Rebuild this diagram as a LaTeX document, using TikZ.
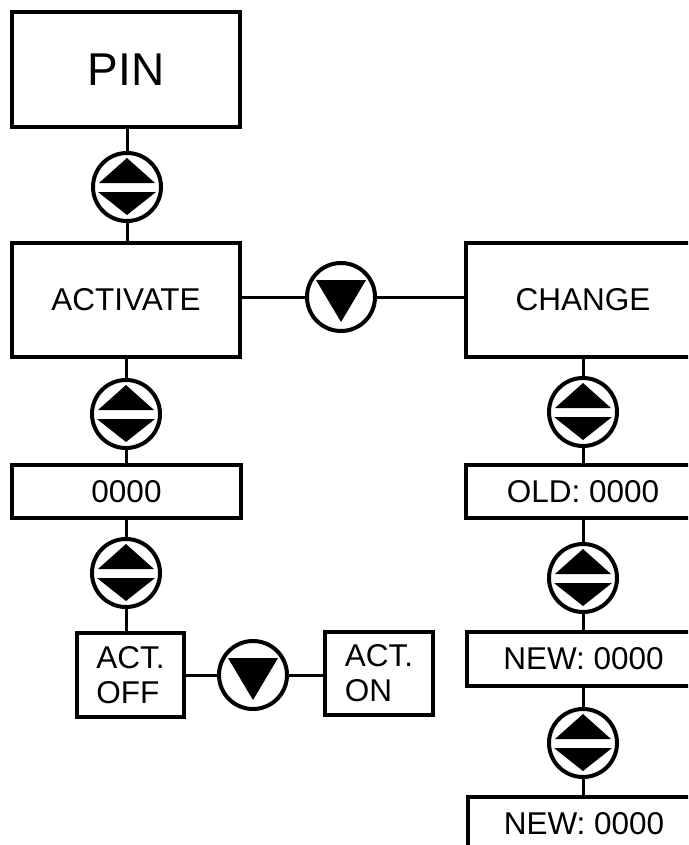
\documentclass[tikz,border=0pt]{standalone}
\usepackage{fontspec}
\setmainfont{Liberation Sans}
\newcommand\udicon[2]{\node[icon] (#1) at (#2) {};
 \fill[shift={(#1.center)}] (0,-29) -- (28,-4) -- (-28,-4) -- cycle (-29,5) -- (29,5) -- (0,28) -- cycle;}
\newcommand\dnicon[2]{\node[icon] (#1) at (#2) {};
 \fill[shift={(#1.center)}] (-25,-17) -- (25,-17) -- (0,25) -- cycle;}
\begin{document}
\begin{tikzpicture}[x=1pt,y=-1pt,
 box/.style={draw,line width=3.2pt,inner sep=0pt,font=\fontsize{31.5}{35}\selectfont},
 icon/.style={circle,draw,line width=4pt,minimum size=68pt,inner sep=0pt},
 link/.style={line width=3pt}]
\useasboundingbox (0,0) rectangle (688,845);
\clip (0,0) rectangle (688,845);
% boxes
\node[box,minimum width=228pt,minimum height=115pt,font=\fontsize{46}{50}\selectfont] (pin) at (126,69.5) {PIN};
\node[box,minimum width=228pt,minimum height=114pt] (act) at (126,300) {ACTIVATE};
\node[box,minimum width=229pt,minimum height=53pt] (zero) at (126.5,491.5) {0000};
\node[box,minimum width=107pt,minimum height=84pt,align=left] (off) at (130.5,675) {ACT.\\OFF};
\node[box,minimum width=108pt,minimum height=83pt,align=left] (on) at (379,673.5) {ACT.\\ON};
\node[box,minimum width=234pt,minimum height=114pt] (change) at (583,300) {CHANGE};
\node[box,minimum width=234pt,minimum height=53pt] (old) at (583,491.5) {OLD: 0000};
\node[box,minimum width=233pt,minimum height=54pt] (newa) at (583.5,659) {NEW: 0000};
\node[box,minimum width=232pt,minimum height=54pt] (newb) at (584,824) {NEW: 0000};
% icons
\udicon{ua}{127,187}
\udicon{ub}{126,414}
\udicon{uc}{126,573}
\udicon{ud}{583,412}
\udicon{ue}{583,578}
\udicon{uf}{583,743}
\dnicon{da}{341,297}
\dnicon{db}{253,675}
% connectors
\draw[link] (pin.south -| ua) -- (ua.north);
\draw[link] (ua.south) -- (ua.south |- act.north);
\draw[link] (act.south -| ub) -- (ub.north);
\draw[link] (ub.south) -- (ub.south |- zero.north);
\draw[link] (zero.south -| uc) -- (uc.north);
\draw[link] (uc.south) -- (uc.south |- off.north);
\draw[link] (change.south -| ud) -- (ud.north);
\draw[link] (ud.south) -- (ud.south |- old.north);
\draw[link] (old.south -| ue) -- (ue.north);
\draw[link] (ue.south) -- (ue.south |- newa.north);
\draw[link] (newa.south -| uf) -- (uf.north);
\draw[link] (uf.south) -- (uf.south |- newb.north);
\draw[link] (act.east |- da) -- (da.west);
\draw[link] (da.east) -- (da.east -| change.west);
\draw[link] (off.east |- db) -- (db.west);
\draw[link] (db.east) -- (db.east -| on.west);
\end{tikzpicture}
\end{document}
